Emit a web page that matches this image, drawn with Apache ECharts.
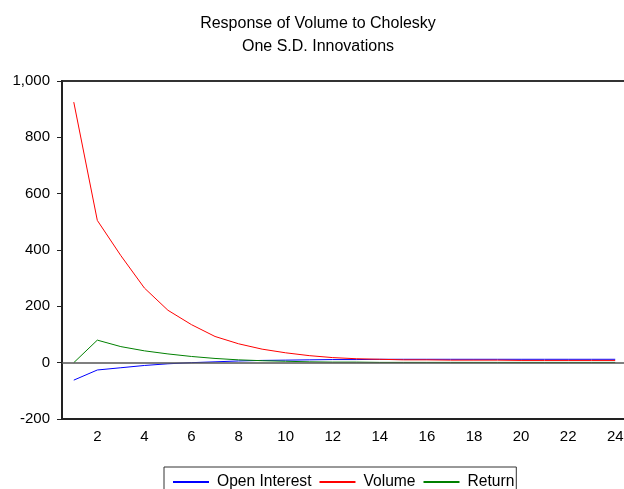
<!DOCTYPE html>
<html>
<head>
<meta charset="utf-8">
<script src="https://cdn.jsdelivr.net/npm/echarts@6/dist/echarts.min.js"></script>
<style>
  html, body { margin: 0; padding: 0; background: #fff; }
  #main { width: 624px; height: 489px; }
</style>
</head>
<body>
<div id="main"></div>
<script>
// 期数与三条脉冲响应
const periods = Array.from({ length: 24 }, (_, i) => String(i + 1));
const openInterest = [-62, -26, -18, -10, -4, 0, 3, 6, 8, 9, 10, 11, 11, 12, 12, 12, 12, 12, 12, 12, 12, 12, 12, 12];
const volume = [925, 505, 380, 265, 186, 135, 93, 67, 48, 35, 25, 18, 14, 12, 10, 10, 9, 9, 9, 8, 8, 8, 8, 8];
const returns = [0, 80, 57, 42, 31, 22, 15, 10, 7, 5, 3, 2, 2, 1, 1, 1, 1, 1, 1, 1, 1, 1, 1, 1];

const FONT = 'Liberation Sans, Arial, sans-serif';

const option = {
  animation: false,
  title: {
    text: 'Response of Volume to Cholesky\nOne S.D. Innovations',
    left: 313,
    top: 7,
    textAlign: 'center',
    textStyle: { fontFamily: FONT, fontSize: 16, fontWeight: 'normal', color: '#000', lineHeight: 23 }
  },
  legend: {
    left: 164,
    top: 467,
    padding: [7, 2, 7, 8],
    itemGap: 7,
    itemWidth: 36,
    itemHeight: 14,
    borderColor: '#333',
    borderWidth: 1,
    itemStyle: { opacity: 0 },
    textStyle: { fontFamily: FONT, fontSize: 15.6, color: '#000', padding: [0, 0, 0, 3] },
    data: ['Open Interest', 'Volume', 'Return']
  },
  grid: {
    left: 62,
    width: 565,
    top: 81,
    bottom: 70,
    outerBoundsMode: 'none',
    containLabel: false,
    show: true,
    borderColor: '#333',
    borderWidth: 2
  },
  xAxis: {
    type: 'category',
    data: periods,
    boundaryGap: true,
    axisLine: { onZero: false, lineStyle: { color: '#222', width: 2 } },
    axisTick: { interval: 0, length: 5, lineStyle: { color: '#222' } },
    axisLabel: {
      interval: (idx) => idx % 2 === 1,
      margin: 10,
      fontFamily: FONT,
      fontSize: 15,
      color: '#000'
    },
    splitLine: { show: false }
  },
  yAxis: {
    type: 'value',
    min: -200,
    max: 1000,
    interval: 200,
    axisLine: { show: true, lineStyle: { color: '#222', width: 2 } },
    axisTick: { show: true, length: 5, lineStyle: { color: '#222' } },
    axisLabel: {
      margin: 12,
      fontFamily: FONT,
      fontSize: 15,
      color: '#000',
      formatter: (v) => v.toLocaleString('en-US')
    },
    splitLine: { show: false }
  },
  series: [
    {
      name: 'Open Interest',
      type: 'line',
      data: openInterest,
      symbol: 'none',
      lineStyle: { color: '#0000ff', width: 1 },
      itemStyle: { color: '#0000ff' },
      markLine: {
        silent: true,
        symbol: 'none',
        label: { show: false },
        lineStyle: { color: '#555', width: 1.5, type: 'solid' },
        data: [{ yAxis: 0 }]
      },
      z: 3
    },
    {
      name: 'Volume',
      type: 'line',
      data: volume,
      symbol: 'none',
      lineStyle: { color: '#ff0000', width: 1 },
      itemStyle: { color: '#ff0000' },
      z: 3
    },
    {
      name: 'Return',
      type: 'line',
      data: returns,
      symbol: 'none',
      lineStyle: { color: '#008000', width: 1 },
      itemStyle: { color: '#008000' },
      z: 3
    }
  ]
};

const myChart = echarts.init(document.getElementById('main'));
myChart.setOption(option);
</script>
</body>
</html>
